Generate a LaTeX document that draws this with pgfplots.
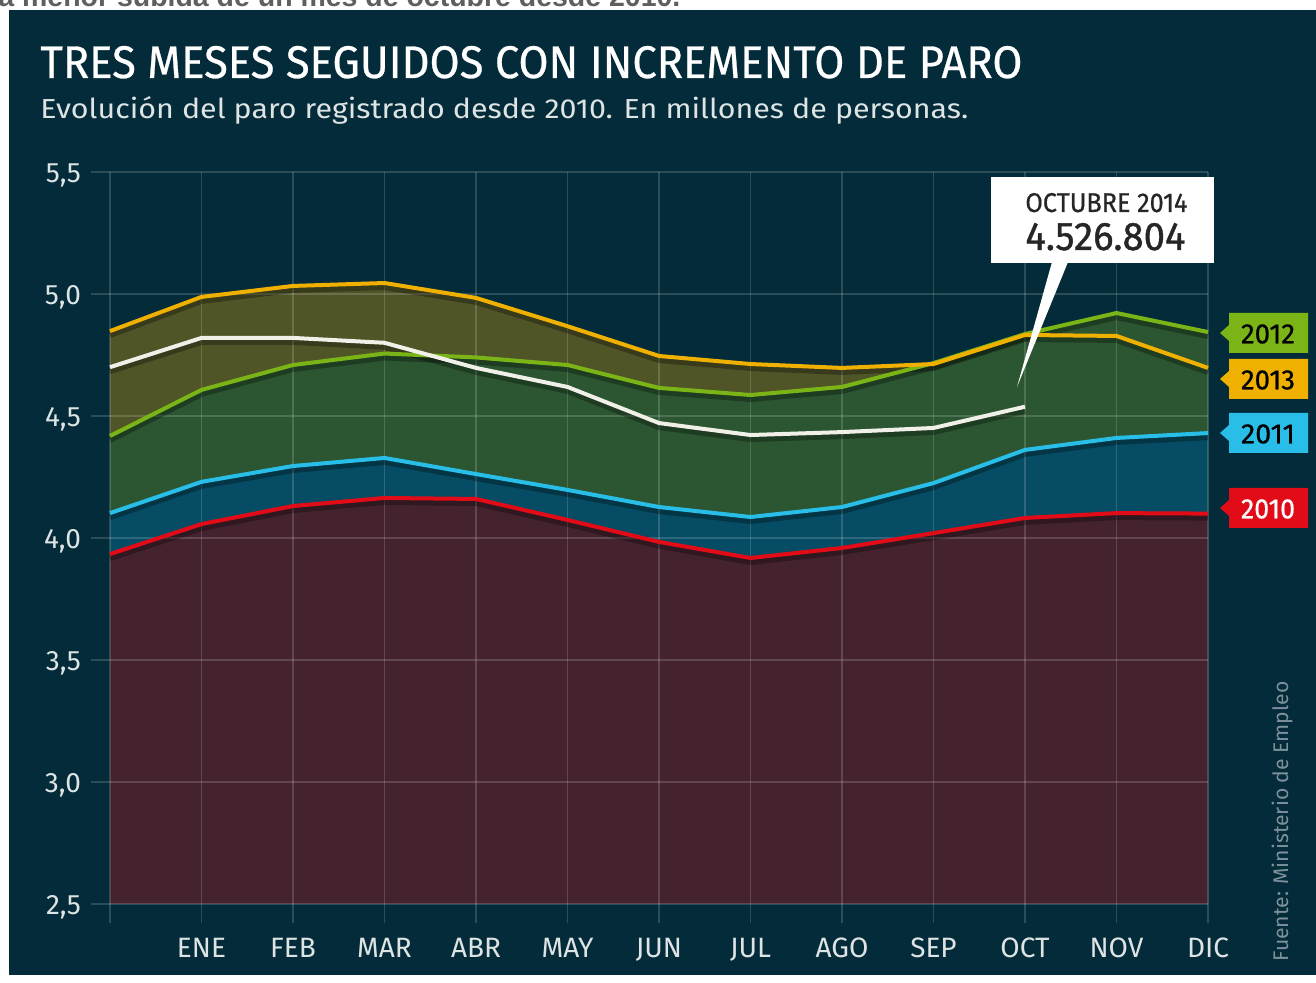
\documentclass[border=0pt]{standalone}
\usepackage{pgfplots}
\pgfplotsset{compat=1.18}
\usepackage{pgfplotstable}
\usepackage{graphicx}
\usepackage{fontspec}
\setmainfont{Fira Sans}
\newfontfamily\arialfont{Liberation Sans}
\newfontfamily\firafb[FakeBold=0.6]{Fira Sans}
\newfontfamily\firafbb[FakeBold=1.0]{Fira Sans}

\definecolor{bg}{RGB}{3,43,57}
\definecolor{fmaroon}{RGB}{68,35,47}
\definecolor{fblue}{RGB}{6,76,100}
\definecolor{fgreen}{RGB}{43,86,49}
\definecolor{folive}{RGB}{80,85,40}
\definecolor{lyellow}{RGB}{240,176,0}
\definecolor{lgreen}{RGB}{122,180,22}
\definecolor{lblue}{RGB}{40,190,232}
\definecolor{lred}{RGB}{225,12,24}
\definecolor{lwhite}{RGB}{240,240,232}
\definecolor{txt}{RGB}{222,228,228}
\definecolor{srcc}{RGB}{125,145,155}
\definecolor{topgray}{RGB}{95,95,95}

% paro registrado, millones de personas (indice 0 = diciembre del anio anterior)
\pgfplotstableread{
m a2010 a2011 a2012 a2013
0  3.934 4.102 4.418 4.848
1  4.057 4.230 4.607 4.988
2  4.131 4.295 4.709 5.033
3  4.164 4.328 4.756 5.045
4  4.160 4.262 4.740 4.984
5  4.074 4.197 4.709 4.868
6  3.984 4.127 4.615 4.746
7  3.918 4.086 4.586 4.713
8  3.959 4.127 4.619 4.697
9  4.020 4.225 4.717 4.713
10 4.082 4.361 4.836 4.832
11 4.102 4.410 4.922 4.828
12 4.100 4.430 4.844 4.697
}\datatable
\pgfplotstableread{
m a2014
0  4.700
1  4.820
2  4.820
3  4.800
4  4.697
5  4.619
6  4.471
7  4.422
8  4.434
9  4.451
10 4.538
}\datab

\newcommand{\tag}[4]{% y-center, fill, text colour, text
  \fill[#2] (1220,#1) -- (1229,#1-8) -- (1229,#1-20) -- (1308,#1-20) -- (1308,#1+20) -- (1229,#1+20) -- (1229,#1+8) -- cycle;
  \node[anchor=center, inner sep=0, text=#3] at (1268,#1+1) {\resizebox{27pt}{9.5pt}{\firafb #4}};
}

\begin{document}
\begin{tikzpicture}[x=0.5pt,y=0.5pt]
\path[use as bounding box] (0,0) rectangle (1316,983);
\begin{scope}[yshift=491.5pt, yscale=-1]
\fill[white] (0,0) rectangle (1316,983);
\begin{scope}
\clip (0,0) rectangle (1316,10);
\node[anchor=base west, inner sep=0, text=topgray] at (-2,7)
  {\resizebox{341pt}{!}{\arialfont\bfseries\fontsize{13}{13}\selectfont a menor subida de un mes de octubre desde 2010.}};
\end{scope}
\fill[bg] (9,10) rectangle (1316,975);

% title and subtitle
\node[anchor=base west, inner sep=0, text=white] at (40,78)
  {\resizebox{491pt}{16pt}{\firafb\fontsize{23}{23}\selectfont TRES MESES SEGUIDOS CON INCREMENTO DE PARO}};
\node[anchor=base west, inner sep=0, text=txt] at (40,119)
  {\resizebox{464pt}{11pt}{\fontsize{16}{16}\selectfont Evolución del paro registrado desde 2010. En millones de personas.}};
\end{scope}

% areas
\begin{axis}[at={(55pt,39.5pt)}, anchor=south west, scale only axis,
  width=549pt, height=366pt, xmin=0, xmax=12, ymin=2.5, ymax=5.5,
  axis lines=none]
\addplot[draw=none, fill=folive] table[x=m,y=a2013]{\datatable} \closedcycle;
\addplot[draw=none, fill=fgreen] table[x=m,y=a2012]{\datatable} \closedcycle;
\addplot[draw=none, fill=fblue] table[x=m,y=a2011]{\datatable} \closedcycle;
\addplot[draw=none, fill=fmaroon] table[x=m,y=a2010]{\datatable} \closedcycle;
\end{axis}

% grid, ticks and lines
\begin{axis}[at={(55pt,39.5pt)}, anchor=south west, scale only axis,
  width=549pt, height=366pt, xmin=0, xmax=12, ymin=2.5, ymax=5.5,
  axis line style={draw=none},
  grid=major, major grid style={white, opacity=0.16, line width=0.9pt},
  tick style={white, opacity=0.16, line width=0.9pt},
  tick align=outside, major tick length=9.5pt, tick pos=left,
  xtick={0,1,2,3,4,5,6,7,8,9,10,11,12},
  xticklabels={,ENE,FEB,MAR,ABR,MAY,JUN,JUL,AGO,SEP,OCT,NOV,DIC},
  ytick={2.5,3,3.5,4,4.5,5,5.5},
  yticklabels={{2,5},{3,0},{3,5},{4,0},{4,5},{5,0},{5,5}},
  ticklabel style={font=\fontsize{14}{14}\selectfont, text=txt},
  xticklabel style={yshift=-4pt},
  yticklabel style={xshift=-1.5pt, yshift=-1.5pt},
  clip=false]
\addplot[black, opacity=0.3, line width=3pt, yshift=-2pt, forget plot] table[x=m,y=a2010]{\datatable};
\addplot[black, opacity=0.3, line width=3pt, yshift=-2pt, forget plot] table[x=m,y=a2011]{\datatable};
\addplot[black, opacity=0.3, line width=3pt, yshift=-2pt, forget plot] table[x=m,y=a2012]{\datatable};
\addplot[black, opacity=0.3, line width=3pt, yshift=-2pt, forget plot] table[x=m,y=a2013]{\datatable};
\addplot[black, opacity=0.3, line width=3pt, yshift=-2pt, forget plot] table[x=m,y=a2014]{\datab};
\addplot[lred, line width=2pt] table[x=m,y=a2010]{\datatable};
\addplot[lblue, line width=2pt] table[x=m,y=a2011]{\datatable};
\addplot[lgreen, line width=2pt] table[x=m,y=a2012]{\datatable};
\addplot[lyellow, line width=2pt] table[x=m,y=a2013]{\datatable};
\addplot[lwhite, line width=2pt] table[x=m,y=a2014]{\datab};
\end{axis}

\begin{scope}[yshift=491.5pt, yscale=-1]
% callout
\fill[white] (1052,262) -- (1068,262) -- (1017,387) -- cycle;
\fill[white] (991,177) rectangle (1214,263);
\node[anchor=base west, inner sep=0, text=black!85] at (1025,212)
  {\resizebox{81pt}{9.5pt}{\firafb\fontsize{14}{14}\selectfont OCTUBRE 2014}};
\node[anchor=base west, inner sep=0, text=black!85] at (1025,250)
  {\resizebox{80pt}{13.5pt}{\firafbb\fontsize{20}{20}\selectfont 4.526.804}};

% year tags
\tag{333}{lgreen}{black}{2012}
\tag{379}{lyellow}{black}{2013}
\tag{433}{lblue}{black}{2011}
\tag{508}{lred}{white}{2010}

% source
\node[rotate=90, anchor=base west, inner sep=0, text=srcc] at (1288,962)
  {\resizebox{140pt}{!}{\fontsize{10}{10}\selectfont Fuente: Ministerio de Empleo}};
\end{scope}
\end{tikzpicture}
\end{document}
